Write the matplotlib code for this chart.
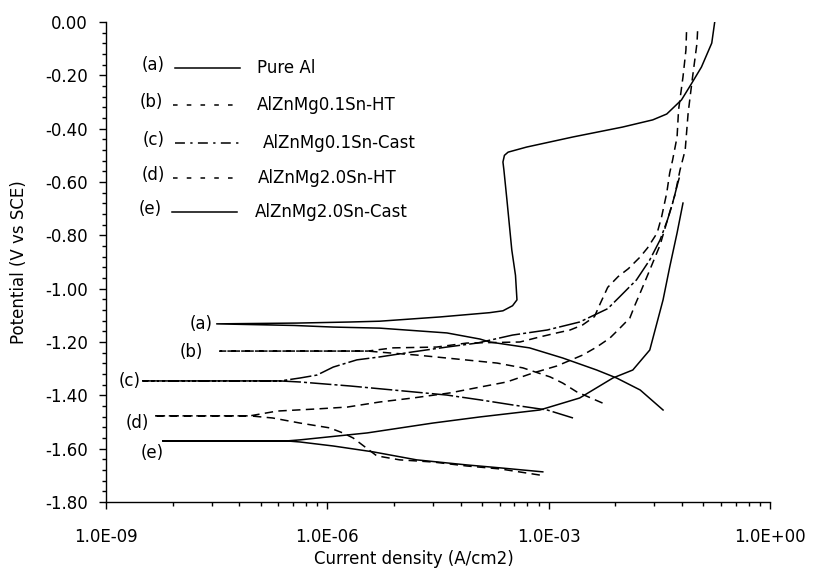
import numpy as np
import matplotlib
matplotlib.use("Agg")
import matplotlib.pyplot as plt
from matplotlib.ticker import FixedLocator, FixedFormatter, NullFormatter

plt.rcParams['font.family'] = ['DejaVu Sans']
plt.rcParams['axes.unicode_minus'] = False

# ---------------- data (log10 current density, potential V vs SCE) ----------------
# (a) Pure Al
a_an_logi = [-7.50, -6.41, -5.69, -5.29, -4.47, -3.80, -3.62, -3.49, -3.43, -3.45, -3.50,
             -3.566, -3.607, -3.62, -3.60, -3.55, -3.30, -2.67, -2.00, -1.59, -1.40, -1.20,
             -1.06, -0.93, -0.79, -0.75]
a_an_E = [-1.132, -1.129, -1.125, -1.122, -1.106, -1.090, -1.083, -1.064, -1.042, -0.950, -0.855,
          -0.667, -0.555, -0.525, -0.500, -0.488, -0.469, -0.431, -0.394, -0.367, -0.345, -0.292,
          -0.229, -0.169, -0.079, 0.0]
a_ca_logi = [-7.50, -6.45, -5.92, -5.29, -4.38, -3.93, -3.80, -3.26, -2.81, -2.35, -2.08, -1.76, -1.45]
a_ca_E = [-1.132, -1.138, -1.144, -1.148, -1.166, -1.189, -1.200, -1.222, -1.260, -1.305, -1.335,
          -1.380, -1.455]

# (b) AlZnMg0.1Sn-HT
b_an_logi = [-7.455, -5.45, -5.11, -4.52, -4.11, -3.39, -3.12, -2.89, -2.71, -2.54, -2.38, -2.30,
             -2.20, -2.06, -1.92, -1.76, -1.66, -1.53, -1.47, -1.40, -1.36, -1.32, -1.26, -1.24,
             -1.18, -1.14, -1.13]
b_an_E = [-1.234, -1.234, -1.222, -1.219, -1.204, -1.200, -1.181, -1.166, -1.155, -1.136, -1.105,
          -1.055, -0.995, -0.955, -0.925, -0.881, -0.847, -0.791, -0.731, -0.641, -0.566, -0.517,
          -0.431, -0.330, -0.206, -0.105, -0.019]
b_ca_logi = [-7.455, -5.45, -5.29, -4.79, -4.24, -3.70, -3.35, -2.98, -2.81, -2.62, -2.27]
b_ca_E = [-1.234, -1.234, -1.238, -1.249, -1.264, -1.279, -1.297, -1.331, -1.354, -1.387, -1.429]

# (c) AlZnMg0.1Sn-Cast
c_an_logi = [-8.50, -6.64, -6.37, -6.14, -5.92, -5.60, -5.29, -4.84, -4.38, -3.97, -3.49, -3.02,
             -2.58, -2.20, -2.04, -1.81, -1.63, -1.49, -1.39, -1.32, -1.25, -1.22]
c_an_E = [-1.346, -1.346, -1.335, -1.324, -1.294, -1.267, -1.256, -1.237, -1.219, -1.204, -1.174,
          -1.155, -1.125, -1.075, -1.031, -0.967, -0.892, -0.817, -0.742, -0.679, -0.604, -0.574]
c_ca_logi = [-8.50, -6.64, -6.37, -5.69, -4.84, -4.38, -3.93, -3.49, -3.02, -2.67]
c_ca_E = [-1.346, -1.346, -1.350, -1.365, -1.387, -1.399, -1.417, -1.436, -1.455, -1.485]

# (d) AlZnMg2.0Sn-HT
d_an_logi = [-8.36, -7.05, -6.68, -6.14, -5.73, -5.29, -4.84, -4.34, -3.93, -3.57, -3.21, -2.89,
             -2.54, -2.35, -2.17, -2.06, -1.90, -1.83, -1.76, -1.63, -1.49, -1.39, -1.29, -1.22,
             -1.15, -1.11, -1.05, -0.99, -0.98]
d_an_E = [-1.477, -1.477, -1.459, -1.451, -1.444, -1.425, -1.410, -1.391, -1.369, -1.350, -1.316,
          -1.290, -1.249, -1.219, -1.185, -1.155, -1.110, -1.061, -1.016, -0.930, -0.836, -0.742,
          -0.649, -0.555, -0.480, -0.341, -0.206, -0.079, -0.022]
d_ca_logi = [-8.36, -7.05, -6.74, -6.37, -5.97, -5.79, -5.65, -5.33, -5.02, -4.57, -4.11, -3.66, -3.12]
d_ca_E = [-1.477, -1.477, -1.485, -1.504, -1.522, -1.541, -1.560, -1.627, -1.642, -1.650, -1.665,
          -1.676, -1.699]

# (e) AlZnMg2.0Sn-Cast
e_an_logi = [-8.23, -6.55, -6.37, -5.46, -4.57, -3.93, -3.12, -2.58, -2.13, -1.86, -1.63, -1.45,
             -1.36, -1.26, -1.18]
e_an_E = [-1.571, -1.571, -1.567, -1.541, -1.504, -1.481, -1.455, -1.410, -1.335, -1.305, -1.230,
          -1.042, -0.919, -0.791, -0.679]
e_ca_logi = [-8.23, -6.55, -6.37, -5.92, -5.38, -4.79, -4.11, -3.66, -3.08]
e_ca_E = [-1.571, -1.571, -1.575, -1.590, -1.612, -1.642, -1.661, -1.672, -1.687]

curve_tags = ["(a)", "(b)", "(c)", "(d)", "(e)"]
curve_names = ["Pure Al", "AlZnMg0.1Sn-HT", "AlZnMg0.1Sn-Cast", "AlZnMg2.0Sn-HT", "AlZnMg2.0Sn-Cast"]

x_major = [1e-9, 1e-6, 1e-3, 1e0]
x_major_labels = ["1.0E-09", "1.0E-06", "1.0E-03", "1.0E+00"]
y_major = [0.0, -0.2, -0.4, -0.6, -0.8, -1.0, -1.2, -1.4, -1.6, -1.8]
y_major_labels = ["0.00", "-0.20", "-0.40", "-0.60", "-0.80", "-1.00", "-1.20", "-1.40", "-1.60", "-1.80"]

# ---------------- styles ----------------
curve_styles = ["-", (0, (5.5, 3.5)), (0, (14, 2, 2, 2)), (0, (5.5, 3.5)), "-"]
legend_styles = ["-", (0, (3, 6)), (0, (6.5, 3.5, 1.5, 3.5)), (0, (3, 6)), "-"]

fig = plt.figure(figsize=(8.14, 5.72), dpi=100)
ax = fig.add_axes([0.1302, 0.1224, 0.8158, 0.8391])

branches = [
    (a_an_logi, a_an_E, a_ca_logi, a_ca_E),
    (b_an_logi, b_an_E, b_ca_logi, b_ca_E),
    (c_an_logi, c_an_E, c_ca_logi, c_ca_E),
    (d_an_logi, d_an_E, d_ca_logi, d_ca_E),
    (e_an_logi, e_an_E, e_ca_logi, e_ca_E),
]
for (al, ae, cl, ce), ls in zip(branches, curve_styles):
    logi = np.concatenate([np.array(cl)[::-1], np.array(al)[1:]])
    E = np.concatenate([np.array(ce)[::-1], np.array(ae)[1:]])
    ax.plot(10.0 ** logi, E, color="black", lw=1.1, linestyle=ls)

ax.set_xscale("log")
ax.set_xlim(1e-9, 1e0)
ax.set_ylim(-1.8, 0.0)

ax.xaxis.set_major_locator(FixedLocator(x_major))
ax.xaxis.set_major_formatter(FixedFormatter(x_major_labels))
minor_x = [10.0 ** (np.log10(x_major[k]) + 3 * np.log10(m)) for k in range(3) for m in range(2, 10)]
ax.xaxis.set_minor_locator(FixedLocator(minor_x))
ax.xaxis.set_minor_formatter(NullFormatter())

ax.yaxis.set_major_locator(FixedLocator(y_major))
ax.yaxis.set_major_formatter(FixedFormatter(y_major_labels))
ax.yaxis.set_minor_locator(FixedLocator(np.arange(-1.80, 0.001, 0.04)))

for s in ["top", "right"]:
    ax.spines[s].set_visible(False)
for s in ["left", "bottom"]:
    ax.spines[s].set_linewidth(1.0)

ax.tick_params(axis="both", which="major", direction="out", length=5, width=1.0, labelsize=12)
ax.tick_params(axis="both", which="minor", direction="out", length=3.2, width=1.0)
ax.tick_params(axis="x", which="major", pad=14)
ax.tick_params(axis="y", which="major", pad=8)

ax.set_xlabel("Current density (A/cm2)", fontsize=12)
ax.xaxis.set_label_coords(0.464, -0.10)
ax.set_ylabel("Potential (V vs SCE)", fontsize=12)
ax.yaxis.set_label_coords(-0.118, 0.5)

# ---------------- legend (manual, in axes coordinates) ----------------
leg_y = [0.904, 0.827, 0.748, 0.675, 0.604]
leg_tag_x = [0.071, 0.068, 0.071, 0.071, 0.066]
leg_line = [(0.104, 0.202), (0.101, 0.191), (0.104, 0.202), (0.101, 0.191), (0.099, 0.197)]
leg_text_x = [0.227, 0.227, 0.236, 0.229, 0.224]
for i in range(5):
    ax.text(leg_tag_x[i], leg_y[i] + 0.006, curve_tags[i], transform=ax.transAxes,
            ha="center", va="center", fontsize=12)
    ax.plot(list(leg_line[i]), [leg_y[i], leg_y[i]], transform=ax.transAxes,
            color="black", lw=1.1, linestyle=legend_styles[i], clip_on=False)
    ax.text(leg_text_x[i], leg_y[i], curve_names[i], transform=ax.transAxes,
            ha="left", va="center", fontsize=12)

# ---------------- curve tags near the corrosion potentials ----------------
tag_xy = [(0.143, 0.371), (0.128, 0.3125), (0.036, 0.252), (0.047, 0.165), (0.069, 0.102)]
for t, (x, y) in zip(curve_tags, tag_xy):
    ax.text(x, y, t, transform=ax.transAxes, ha="center", va="center", fontsize=12)

fig.savefig("out.png", dpi=100)
